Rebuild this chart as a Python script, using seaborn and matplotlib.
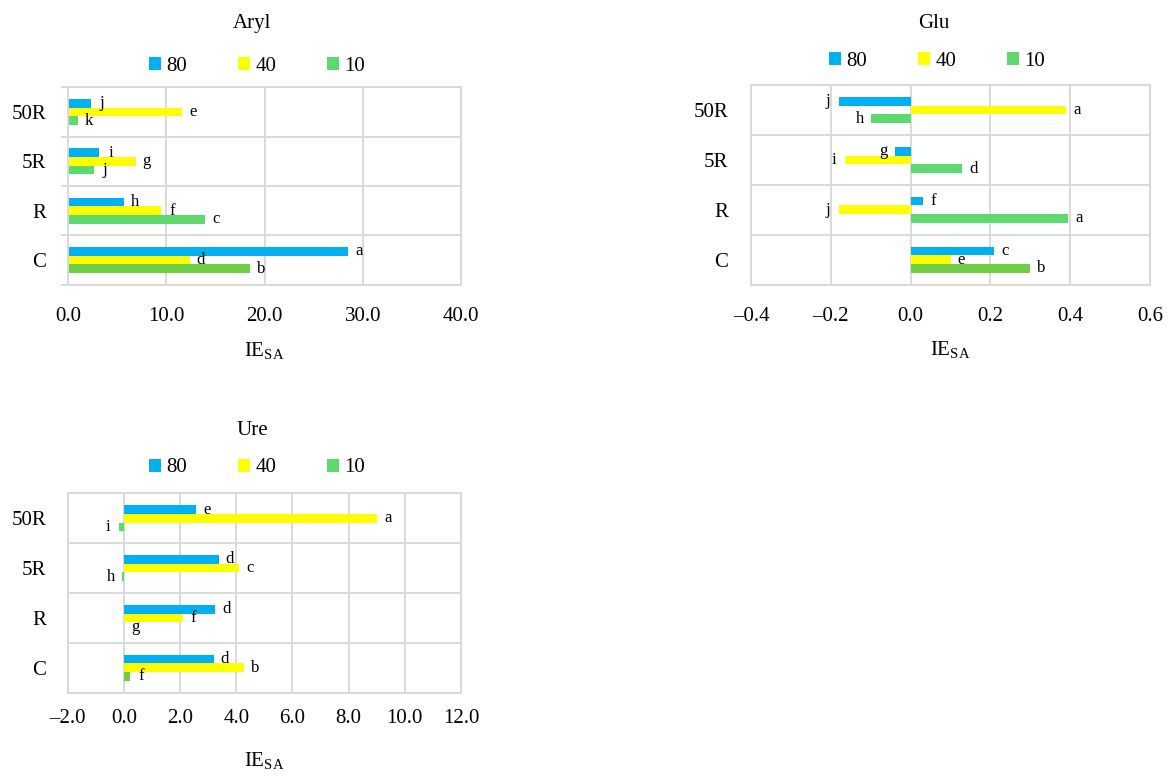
import numpy as np
import pandas as pd
import matplotlib
matplotlib.use("Agg")
import matplotlib.pyplot as plt
from matplotlib.ticker import FuncFormatter
import seaborn as sns

# ---- data -------------------------------------------------------------
treatments = ["50R", "5R", "R", "C"]
doses = ["80", "40", "10"]

aryl_80 = [2.3, 3.2, 5.7, 28.5]
aryl_40 = [11.6, 6.9, 9.5, 12.4]
aryl_10 = [1.0, 2.6, 13.9, 18.5]
aryl_let_80 = ["j", "i", "h", "a"]
aryl_let_40 = ["e", "g", "f", "d"]
aryl_let_10 = ["k", "j", "c", "b"]

glu_80 = [-0.18, -0.04, 0.03, 0.21]
glu_40 = [0.39, -0.165, -0.18, 0.10]
glu_10 = [-0.10, 0.13, 0.395, 0.30]
glu_let_80 = ["j", "g", "f", "c"]
glu_let_40 = ["a", "i", "j", "e"]
glu_let_10 = ["h", "d", "a", "b"]

ure_80 = [2.56, 3.38, 3.26, 3.20]
ure_40 = [9.02, 4.09, 2.09, 4.27]
ure_10 = [-0.18, -0.05, 0.02, 0.21]
ure_let_80 = ["e", "d", "d", "d"]
ure_let_40 = ["a", "c", "f", "b"]
ure_let_10 = ["i", "h", "g", "f"]

# ---- style ------------------------------------------------------------
sns.set_theme(style="white")
plt.rcParams["font.family"] = ["Liberation Serif", "DejaVu Serif"]
plt.rcParams["mathtext.fontset"] = "custom"
plt.rcParams["mathtext.rm"] = "Liberation Serif"
plt.rcParams["text.color"] = "black"
plt.rcParams["xtick.color"] = "black"
plt.rcParams["ytick.color"] = "black"

GRID = "#D9D9D9"
LW = 1.4
palette = {"80": "#00B0F0", "40": "#FFFF00", "10": "#5DD96E"}
CONTROL_GREEN = "#6DCD43"
BAR_WIDTH = 0.52

W, H = 1170, 776
fig = plt.figure(figsize=(W / 100, H / 100), dpi=100)
fig.patch.set_facecolor("white")


def rect(l, t, r, b):
    return [l / W, 1 - b / H, (r - l) / W, (b - t) / H]


def fx(x):
    return x / W


def fy(y):
    return 1 - y / H


def dash_fmt(v, pos):
    s = f"{v:.1f}"
    if s == "-0.0":
        s = "0.0"
    return s.replace("-", "\u2013")


panels = [
    dict(name="Aryl", vals=(aryl_80, aryl_40, aryl_10),
         lets=(aryl_let_80, aryl_let_40, aryl_let_10),
         box=(68, 87.3, 461, 284.7), xlim=(0, 40), xticks=np.arange(0, 41, 10),
         title=(252, 28), legend=(257, 66.5), xlabel=(264.5, 356.7),
         ypad=15.8, xpad=16, edge_ticks=True),
    dict(name="Glu", vals=(glu_80, glu_40, glu_10),
         lets=(glu_let_80, glu_let_40, glu_let_10),
         box=(751, 85, 1150, 284.7), xlim=(-0.4, 0.6), xticks=np.arange(-0.4, 0.61, 0.2),
         title=(934, 28), legend=(937, 61.5), xlabel=(950.5, 355),
         ypad=16.5, xpad=16, edge_ticks=False),
    dict(name="Ure", vals=(ure_80, ure_40, ure_10),
         lets=(ure_let_80, ure_let_40, ure_let_10),
         box=(67.7, 493.3, 461, 692.7), xlim=(-2, 12), xticks=np.arange(-2, 12.1, 2),
         title=(252, 435), legend=(257, 468), xlabel=(264.4, 766.7),
         ypad=15.6, xpad=12, edge_ticks=False),
]

for p in panels:
    df = pd.DataFrame({
        "treatment": treatments * 3,
        "dose": np.repeat(doses, len(treatments)),
        "IE": np.concatenate(p["vals"]),
    })
    letters = {}
    for d, lets in zip(doses, p["lets"]):
        for t, l in zip(treatments, lets):
            letters[(t, d)] = l

    ax = fig.add_axes(rect(*p["box"]))
    sns.barplot(data=df, x="IE", y="treatment", hue="dose", order=treatments,
                hue_order=doses, palette=palette, orient="h", width=BAR_WIDTH,
                saturation=1, linewidth=0, errorbar=None, ax=ax, legend=True)

    step = BAR_WIDTH / len(doses)
    for cont in ax.containers:
        for bar in cont:
            yc = bar.get_y() + bar.get_height() / 2
            ci = int(round(yc))
            hi = int(round((yc - ci) / step)) + 1
            t, d = treatments[ci], doses[hi]
            end = bar.get_x() + bar.get_width()
            if t == "C" and d == "10":
                bar.set_facecolor(CONTROL_GREEN)
            off = 11 if bar.get_width() >= 0 else -11
            ax.annotate(letters[(t, d)], xy=(end, yc), xytext=(off, 0),
                        textcoords="offset pixels", ha="center", va="center",
                        fontsize=12)

    ax.set_xlim(*p["xlim"])
    ax.set_ylim(len(treatments) - 0.5, -0.5)
    ax.set_xticks(p["xticks"])
    ax.xaxis.set_major_formatter(FuncFormatter(dash_fmt))
    ax.set_yticks(range(len(treatments)))
    ax.set_yticklabels(treatments)
    ax.set_yticks(np.arange(-0.5, len(treatments), 1.0), minor=True)
    ax.set_axisbelow(True)
    ax.grid(axis="x", which="major", color=GRID, lw=LW)
    ax.grid(axis="y", which="minor", color=GRID, lw=LW)
    ax.grid(axis="y", which="major", visible=False)
    for s in ax.spines.values():
        s.set_visible(True)
        s.set_color(GRID)
        s.set_linewidth(LW)
    ax.tick_params(axis="x", length=0, pad=p["xpad"], labelsize=15)
    ax.tick_params(axis="y", which="major", left=True, length=0, pad=p["ypad"],
                   labelsize=15)
    ax.tick_params(axis="y", which="minor", left=p["edge_ticks"],
                   length=5 if p["edge_ticks"] else 0,
                   width=LW, color=GRID, direction="out")
    ax.set_xlabel("")
    ax.set_ylabel("")

    sns.move_legend(ax, "center", bbox_to_anchor=(fx(p["legend"][0]), fy(p["legend"][1])),
                    bbox_transform=fig.transFigure, ncol=3, title=None, frameon=False,
                    fontsize=15, handlelength=0.6, handleheight=0.6,
                    handletextpad=0.25, columnspacing=2.43, borderpad=0,
                    borderaxespad=0)

    fig.text(fx(p["title"][0]), fy(p["title"][1]), p["name"], ha="center",
             va="baseline", fontsize=15)
    fig.text(fx(p["xlabel"][0]), fy(p["xlabel"][1]), r"IE$_{\mathrm{SA}}$",
             ha="center", va="baseline", fontsize=15)

fig.savefig("out.png", dpi=100, facecolor="white")
